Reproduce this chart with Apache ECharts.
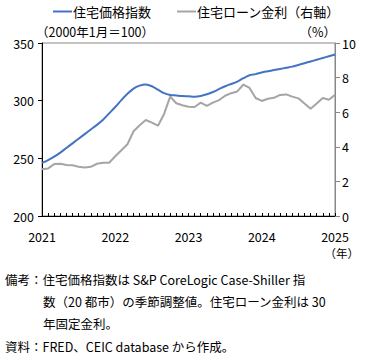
<!DOCTYPE html>
<html>
<head>
<meta charset="utf-8">
<script src="https://cdn.jsdelivr.net/npm/echarts@6/dist/echarts.min.js"></script>
<style>
html,body{margin:0;padding:0;background:#fff;}
#c{width:369px;height:356px;}
</style>
</head>
<body>
<div id="c"></div>
<script>
// Monthly categories Jan 2021 - Jan 2025
var categories = [
 '2021-01','2021-02','2021-03','2021-04','2021-05','2021-06','2021-07','2021-08','2021-09','2021-10','2021-11','2021-12',
 '2022-01','2022-02','2022-03','2022-04','2022-05','2022-06','2022-07','2022-08','2022-09','2022-10','2022-11','2022-12',
 '2023-01','2023-02','2023-03','2023-04','2023-05','2023-06','2023-07','2023-08','2023-09','2023-10','2023-11','2023-12',
 '2024-01','2024-02','2024-03','2024-04','2024-05','2024-06','2024-07','2024-08','2024-09','2024-10','2024-11','2024-12',
 '2025-01'
];
// House price index (2000-01 = 100), left axis
var housePrice = [
 246, 248.5, 251.5, 255, 259, 263, 267, 271, 275, 279, 283.5, 289,
 294.5, 300.5, 306, 310.5, 313, 314, 312.5, 309.5, 306.5, 305, 304.5, 304,
 303.8, 303.4, 304, 305.5, 307.5, 310, 312.5, 314.5, 316.5, 319.5, 322, 323,
 324.5, 325.5, 326.5, 327.5, 328.5, 329.5, 331, 332.5, 334, 335.5, 337, 338.5,
 340
];
// 30-year fixed mortgage rate (%), right axis
var mortgageRate = [
 2.70, 2.75, 3.00, 3.02, 2.95, 2.93, 2.85, 2.80, 2.84, 3.02, 3.08, 3.08,
 3.45, 3.80, 4.15, 4.90, 5.25, 5.55, 5.40, 5.22, 5.90, 6.90, 6.52, 6.40,
 6.32, 6.30, 6.55, 6.36, 6.55, 6.70, 6.95, 7.10, 7.20, 7.60, 7.40, 6.82,
 6.65, 6.78, 6.83, 7.00, 7.03, 6.90, 6.80, 6.50, 6.20, 6.50, 6.82, 6.72,
 7.00
];
var seriesNames = ['住宅価格指数', '住宅ローン金利（右軸）'];
var leftTicks = {min: 200, max: 350, interval: 50};
var rightTicks = {min: 0, max: 10, interval: 2};
var notes = [
 '備考：住宅価格指数は S&P CoreLogic Case-Shiller 指',
 '数（20 都市）の季節調整値。住宅ローン金利は 30',
 '年固定金利。',
 '資料：FRED、CEIC database から作成。'
];

var FONT = '"Noto Sans CJK JP", "Noto Sans", sans-serif';
var chart = echarts.init(document.getElementById('c'), null, {renderer: 'svg'});
chart.setOption({
  animation: false,
  textStyle: {fontFamily: FONT, color: '#000'},
  legend: {
    top: 0, left: 48,
    itemWidth: 19, itemHeight: 2, itemGap: 26,
    icon: 'rect',
    textStyle: {fontFamily: FONT, fontSize: 13, color: '#000', padding: [0, 0, 0, -4]},
    data: seriesNames
  },
  grid: {left: 42, right: 34, top: 43, bottom: 140, show: true, borderColor: '#888', borderWidth: 1},
  xAxis: {
    type: 'category', data: categories, boundaryGap: false,
    axisLine: {lineStyle: {color: '#000', width: 1}},
    axisTick: {show: true, inside: true, length: 3, interval: 0, lineStyle: {color: '#000'}},
    axisLabel: {
      interval: function (i) { return i % 12 === 0; },
      formatter: function (v) { return v.slice(0, 4); },
      fontSize: 12.5, lineHeight: 13, color: '#000', margin: 14, fontFamily: FONT
    },
    splitLine: {show: false}
  },
  yAxis: [
    {
      type: 'value', min: leftTicks.min, max: leftTicks.max, interval: leftTicks.interval,
      axisLine: {show: true, lineStyle: {color: '#000'}},
      axisTick: {show: true, length: 4, lineStyle: {color: '#000'}},
      axisLabel: {fontSize: 12.5, color: '#000', margin: 8, fontFamily: FONT},
      splitLine: {show: false}
    },
    {
      type: 'value', min: rightTicks.min, max: rightTicks.max, interval: rightTicks.interval,
      position: 'right',
      axisLine: {show: true, lineStyle: {color: '#888'}},
      axisTick: {show: true, length: 5, lineStyle: {color: '#888'}},
      axisLabel: {fontSize: 12.5, color: '#000', margin: 7, fontFamily: FONT},
      splitLine: {show: false}
    }
  ],
  series: [
    {
      name: seriesNames[0], type: 'line', data: housePrice, yAxisIndex: 0,
      showSymbol: false, symbol: 'none', smooth: 0.3,
      lineStyle: {color: '#4472C4', width: 2}, itemStyle: {color: '#4472C4'}, z: 3
    },
    {
      name: seriesNames[1], type: 'line', data: mortgageRate, yAxisIndex: 1,
      showSymbol: false, symbol: 'none',
      lineStyle: {color: '#A5A5A5', width: 2}, itemStyle: {color: '#A5A5A5'}, z: 2
    }
  ],
  graphic: [
    {type: 'text', left: 36, top: 25, style: {text: '（2000年1月＝100）', font: '12.5px ' + FONT, fill: '#000'}},
    {type: 'text', right: 33, top: 25, style: {text: '（%）', font: '12.5px ' + FONT, fill: '#000'}},
    {type: 'text', right: 10, top: 246, style: {text: '（年）', font: '11.5px ' + FONT, lineHeight: 13, fill: '#000'}},
    {type: 'text', left: 5, top: 273, style: {text: notes[0], font: '12.5px ' + FONT, fill: '#000'}},
    {type: 'text', left: 43, top: 295, style: {text: notes[1], font: '12.5px ' + FONT, fill: '#000'}},
    {type: 'text', left: 43, top: 317, style: {text: notes[2], font: '12.5px ' + FONT, fill: '#000'}},
    {type: 'text', left: 5, top: 340, style: {text: notes[3], font: '12.5px ' + FONT, fill: '#000'}}
  ]
});
</script>
</body>
</html>
